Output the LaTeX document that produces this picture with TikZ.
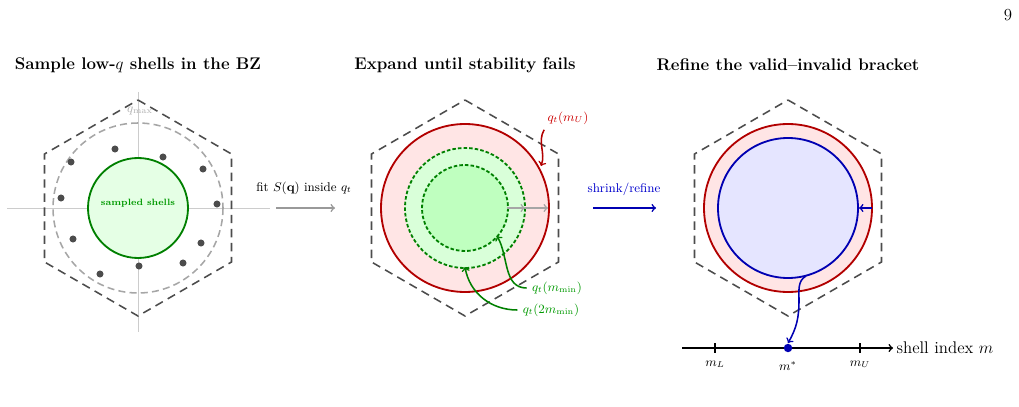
\documentclass[tikz,border=0pt]{standalone}
\usepackage{amsmath}
\begin{document}
\begin{tikzpicture}[x=0.025cm,y=-0.025cm,line width=1.1pt,
  hexa/.style={draw=black!70,line width=1.1pt,dash pattern=on 6pt off 4pt},
  ttl/.style={font=\bfseries\large},
  lab/.style={font=\small},
  dot/.style={circle,fill=black!70,inner sep=0pt,minimum size=5pt}]
\useasboundingbox (0,0) rectangle (1019,407);
\node[font=\large] at (1008,15) {9};
% titles
\node[ttl] (t1) at (138,65) {Sample low-$q$ shells in the BZ};
\node[ttl] (t2) at (465,65) {Expand until stability fails};
\node[ttl] (t3) at (788,65) {Refine the valid--invalid bracket};
% panel 1
\draw[black!20,line width=0.6pt] (7,208) -- (270,208);
\draw[black!20,line width=0.6pt] (138,92) -- (138,332);
\draw[hexa] (138,100) -- (231.5,154) -- (231.5,262) -- (138,316) -- (44.5,262) -- (44.5,154) -- cycle;
\draw[black!35,dash pattern=on 5pt off 3pt] (138,208) circle[radius=85];
\node[black!30,font=\small] (qm) at (140,111) {$q_{\max}$};
\draw[green!50!black,line width=1.3pt,fill=green!10] (138,208) circle[radius=50];
\node[green!60!black,font=\fontsize{6.5}{7}\selectfont\bfseries] (ss) at (138,203) {sampled shells};
\foreach \p [count=\i] in {(115,149),(163,157),(203,169),(217,204),(201,243),(183,263),(139,266),(100,274),(73,239),(61,198),(71,162)}
  \node[dot] (d\i) at \p {};
\node[lab] (fit) at (304,188) {fit $S(\mathbf{q})$ inside $q_t$};
\coordinate (a1s) at (276,208); \coordinate (a1e) at (335,208);
\draw[black!40,->] (a1s) -- (a1e);
% panel 2
\draw[hexa] (465,100) -- (558.5,154) -- (558.5,262) -- (465,316) -- (371.5,262) -- (371.5,154) -- cycle;
\draw[red!70!black,line width=1.3pt,fill=red!10] (465,208) circle[radius=84];
\draw[green!50!black,line width=1.3pt,dash pattern=on 2.5pt off 1.5pt,fill=green!15] (465,208) circle[radius=60];
\draw[green!50!black,line width=1.3pt,dash pattern=on 2.5pt off 1.5pt,fill=green!25] (465,208) circle[radius=43];
\coordinate (g1) at (507,208); \coordinate (g2) at (525,208); \coordinate (g3) at (548,208);
\draw[black!35,->] (g1) -- (g2);
\draw[black!35,->] (g2) -- (g3);
\node[red!80!black,lab] (qu) at (568,118) {$q_t(m_U)$};
\coordinate (qut) at (541,166);
\draw[red!70!black,->] (qu.south west) ++(2,0) to[out=-120,in=70] (qut);
\node[green!60!black,lab] (qmin) at (557,288) {$q_t(m_{\min})$};
\coordinate (qmint) at (497,236);
\draw[green!50!black,->] (qmin.west) to[out=180,in=-60] (qmint);
\node[green!60!black,lab] (q2min) at (551,310) {$q_t(2m_{\min})$};
\coordinate (q2mint) at (465,267);
\draw[green!50!black,->] (q2min.west) to[out=180,in=-80] (q2mint);
\node[blue!80!black,lab] (sr) at (624,189) {shrink/refine};
\coordinate (a2s) at (593,208); \coordinate (a2e) at (656,208);
\draw[blue!70!black,->] (a2s) -- (a2e);
% panel 3
\draw[hexa] (788,100) -- (881.5,154) -- (881.5,262) -- (788,316) -- (694.5,262) -- (694.5,154) -- cycle;
\draw[red!70!black,line width=1.3pt,fill=red!10] (788,208) circle[radius=84];
\draw[blue!70!black,line width=1.3pt,fill=blue!10] (788,208) circle[radius=70];
\coordinate (ba) at (872,208); \coordinate (bb) at (859,208);
\draw[blue!70!black,->] (ba) -- (bb);
\coordinate (ax0) at (682,348); \coordinate (ax1) at (893,348);
\draw[->] (ax0) -- (ax1) node[right,font=\large,inner sep=2pt] (si) {shell index $m$};
\draw (715,343) -- (715,353); \draw (860,343) -- (860,353);
\node[lab] (mL) at (715,364) {$m_L$};
\node[lab] (ms) at (788,366) {$m^*$};
\node[lab] (mU) at (860,364) {$m_U$};
\node[circle,fill=blue!70!black,inner sep=0pt,minimum size=6pt] (mst) at (788,348) {};
\coordinate (bs) at (806,276);
\draw[blue!70!black,->] (bs) to[out=-150,in=90] (799,300) to[out=-90,in=60] (mst.north);
\end{tikzpicture}
\end{document}
